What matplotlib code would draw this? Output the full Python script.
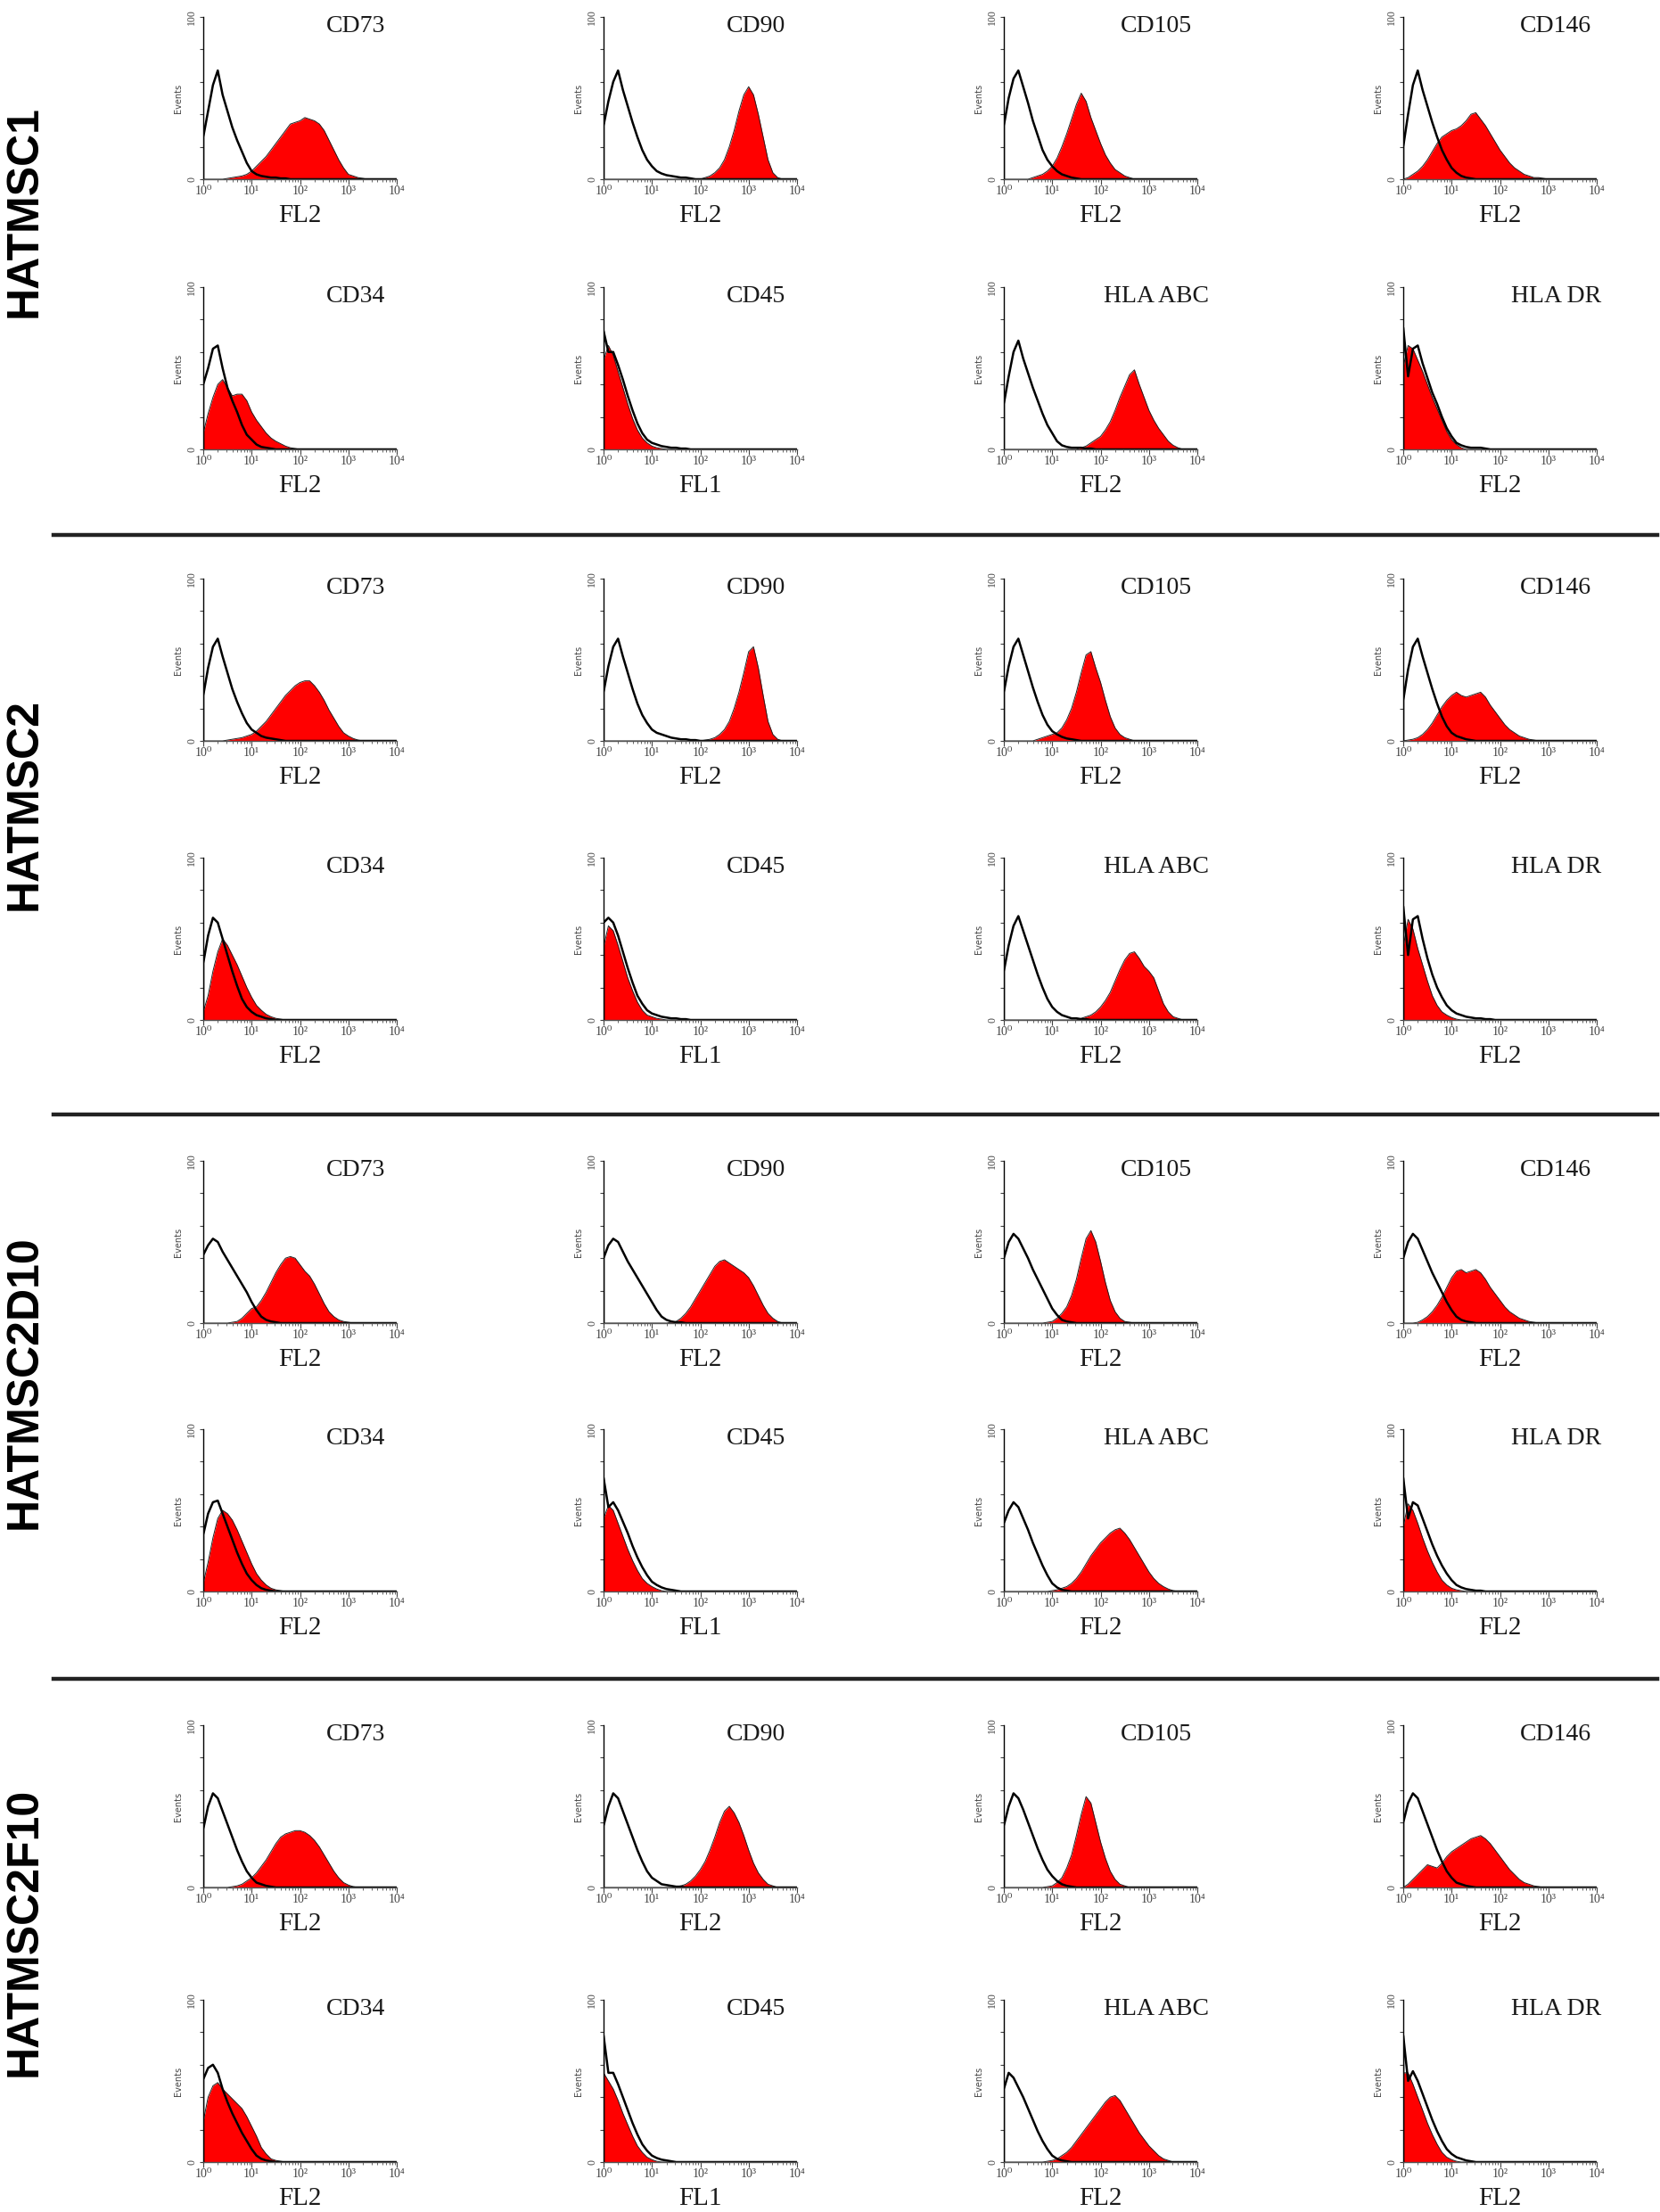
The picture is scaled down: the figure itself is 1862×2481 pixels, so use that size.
import numpy as np
import matplotlib
matplotlib.use("Agg")
import matplotlib.pyplot as plt
from matplotlib.ticker import LogLocator, NullFormatter, FixedLocator, FixedFormatter

# histogram heights (% of max events) read at log10(FL) = 0.0, 0.1, ..., 4.0
groups = ["HATMSC1", "HATMSC2", "HATMSC2D10", "HATMSC2F10"]
markers = ["CD73", "CD90", "CD105", "CD146", "CD34", "CD45", "HLA ABC", "HLA DR"]
channels = ["FL2", "FL2", "FL2", "FL2", "FL2", "FL1", "FL2", "FL2"]
decades = ["10⁰", "10¹", "10²", "10³", "10⁴"]

hatmsc1_ctrl = [
    [26, 42, 58, 67, 52, 42, 32, 24, 17, 10, 5, 3, 2, 1.5, 1, 1, 0.5, 0.5],
    [33, 48, 60, 67, 55, 45, 35, 26, 18, 12, 8, 5, 3.5, 2.5, 2, 1.5, 1, 1, 0.5],
    [33, 50, 62, 67, 57, 47, 36, 27, 18, 12, 8, 5, 3, 2, 1, 0.5],
    [20, 40, 58, 67, 55, 45, 35, 26, 18, 12, 7, 4, 2, 1, 0.5],
    [40, 50, 62, 64, 50, 38, 30, 23, 15, 9, 6, 3, 1.5, 1, 0.5],
    [73, 60, 60, 52, 43, 33, 24, 16, 10, 6, 4, 3, 2, 1.5, 1, 1, 0.5, 0.5],
    [28, 45, 60, 67, 56, 47, 38, 30, 22, 15, 10, 5, 2.5, 1.5, 1, 1, 1, 0.5, 0.5],
    [75, 45, 62, 64, 53, 44, 35, 28, 20, 13, 8, 4, 2.5, 1.5, 1, 1, 1, 0.5],
]
hatmsc1_pos = [
    [0] * 5 + [0.5, 1, 1.5, 2, 3, 5, 8, 11, 14, 18, 22, 26, 30, 34, 35, 36, 38, 37, 36, 34, 30,
               24, 18, 12, 7, 3, 2, 1, 0.5],
    [0] * 21 + [1, 2, 4, 7, 12, 20, 30, 42, 52, 57, 52, 40, 26, 12, 4, 1],
    [0] * 6 + [1, 2, 3, 5, 8, 13, 20, 28, 37, 46, 53, 48, 38, 30, 22, 15, 10, 6, 4, 2, 1],
    [0, 1, 3, 5, 8, 12, 17, 22, 26, 28, 30, 31, 33, 36, 40, 41, 37, 33, 28, 23, 18, 14, 10, 7, 5,
     3, 2, 1, 1, 0.5],
    [10, 22, 32, 40, 43, 38, 33, 34, 34, 30, 23, 18, 14, 10, 7, 5, 3.5, 2, 1, 0.5],
    [55, 64, 58, 48, 38, 28, 19, 12, 7, 4, 2, 1, 0.5],
    [0] * 16 + [1, 2, 4, 6, 8, 12, 17, 24, 32, 39, 46, 49, 40, 32, 24, 18, 13, 9, 5, 2.5, 1],
    [51, 64, 62, 55, 48, 40, 32, 25, 18, 11, 6, 3, 1],
]

hatmsc2_ctrl = [
    [28, 45, 58, 63, 52, 42, 32, 24, 17, 11, 7, 5, 3, 2, 1.5, 1, 0.5],
    [30, 46, 58, 63, 52, 42, 32, 23, 16, 11, 7, 5, 4, 3, 2, 1.5, 1, 1, 0.5, 0.5],
    [30, 46, 58, 63, 53, 43, 33, 24, 16, 10, 6, 4, 2.5, 1.5, 1, 0.5],
    [25, 44, 58, 63, 52, 42, 32, 23, 15, 9, 5, 3, 2, 1, 0.5],
    [35, 52, 63, 60, 50, 40, 30, 21, 13, 8, 5, 3, 2, 1, 0.5],
    [60, 63, 60, 52, 42, 32, 23, 15, 10, 6, 4, 3, 2, 1.5, 1, 1, 0.5, 0.5],
    [30, 46, 58, 64, 55, 46, 37, 28, 20, 13, 8, 5, 3, 2, 1, 1, 0.5, 0.5],
    [70, 40, 62, 64, 50, 38, 28, 20, 14, 9, 6, 4, 3, 2, 1.5, 1, 1, 0.5, 0.5],
]
hatmsc2_pos = [
    [0] * 5 + [0.5, 1, 1.5, 2, 3, 4, 6, 9, 12, 16, 20, 24, 28, 31, 34, 36, 37, 37, 34, 30, 25,
               19, 14, 9, 5, 3, 1.5, 0.5],
    [0] * 21 + [0.5, 1, 2, 4, 7, 12, 20, 30, 42, 55, 58, 45, 28, 12, 4, 1],
    [0] * 7 + [1, 2, 3, 4, 5, 8, 13, 20, 30, 42, 53, 55, 45, 36, 25, 15, 8, 4, 2, 1],
    [0, 0.5, 1, 2, 4, 7, 11, 16, 21, 25, 28, 30, 28, 27, 28, 29, 30, 27, 22, 18, 14, 10, 7, 5, 3,
     2, 1, 0.5],
    [5, 15, 30, 42, 50, 46, 40, 34, 27, 20, 14, 9, 6, 3.5, 2, 1, 0.5],
    [45, 58, 55, 46, 36, 26, 18, 11, 6, 3, 2, 1, 0.5],
    [0] * 16 + [1, 2, 3, 5, 8, 12, 17, 24, 31, 37, 41, 42, 38, 33, 30, 26, 18, 10, 5, 2, 1],
    [45, 62, 56, 44, 34, 24, 15, 9, 5, 3, 1.5, 0.5],
]

hatmsc2d10_ctrl = [
    [42, 48, 52, 50, 44, 39, 34, 29, 24, 19, 13, 8, 4, 2, 1, 0.5],
    [40, 48, 52, 50, 44, 38, 33, 28, 23, 18, 13, 8, 4, 2, 1, 0.5, 0.5],
    [40, 50, 55, 52, 46, 40, 33, 27, 21, 15, 9, 5, 2, 1, 0.5],
    [40, 50, 55, 52, 45, 38, 31, 25, 19, 13, 8, 4, 2, 1, 0.5],
    [35, 48, 55, 56, 48, 40, 32, 24, 17, 11, 7, 4, 2, 1, 0.5],
    [70, 52, 55, 50, 43, 36, 28, 21, 15, 10, 6, 4, 2.5, 1.5, 1, 0.5],
    [42, 50, 55, 52, 45, 38, 30, 23, 16, 10, 5, 2.5, 1, 0.5],
    [70, 45, 55, 53, 45, 37, 29, 22, 16, 11, 7, 4, 2.5, 1.5, 1, 0.5, 0.5],
]
hatmsc2d10_pos = [
    [0] * 6 + [0.5, 1, 3, 6, 9, 10, 14, 19, 25, 31, 36, 40, 41, 40, 36, 32, 29, 24, 18, 12, 7, 4,
               2, 1, 0.5],
    [0] * 14 + [0.5, 1, 3, 6, 10, 15, 20, 25, 30, 35, 38, 39, 37, 35, 33, 31, 28, 23, 17, 11, 6,
                3, 1],
    [0] * 9 + [0.5, 1, 3, 6, 10, 17, 27, 40, 52, 57, 50, 38, 25, 14, 7, 3, 1, 0.5],
    [0] * 3 + [0.5, 2, 4, 7, 11, 16, 22, 28, 32, 33, 31, 32, 33, 31, 27, 22, 18, 14, 10, 7, 5, 3,
               2, 1, 0.5],
    [5, 18, 33, 45, 50, 48, 44, 38, 31, 24, 17, 11, 7, 4, 2, 1, 0.5],
    [45, 53, 50, 42, 34, 26, 19, 13, 8, 5, 3, 1.5, 0.5],
    [0] * 10 + [0.5, 1, 2, 3, 5, 8, 12, 17, 22, 26, 30, 33, 36, 38, 39, 36, 32, 27, 22, 17, 12, 8,
                5, 3, 1.5, 0.5],
    [40, 54, 50, 42, 33, 25, 18, 12, 7, 4, 2, 1, 0.5],
]

hatmsc2f10_ctrl = [
    [36, 50, 58, 55, 47, 39, 31, 23, 16, 10, 6, 3, 2, 1, 0.5],
    [38, 50, 58, 55, 47, 39, 31, 23, 16, 10, 6, 4, 2, 1.5, 1, 0.5, 0.5],
    [38, 50, 58, 55, 48, 40, 32, 24, 17, 11, 7, 4, 2, 1, 0.5],
    [40, 52, 58, 55, 47, 39, 31, 23, 16, 10, 6, 3, 2, 1, 0.5],
    [51, 58, 60, 55, 45, 37, 30, 24, 18, 13, 8, 4, 2, 1, 0.5],
    [78, 55, 55, 48, 40, 32, 24, 17, 11, 7, 4, 2.5, 1.5, 1, 0.5],
    [45, 55, 52, 46, 40, 33, 26, 19, 13, 8, 4, 2, 1, 0.5],
    [78, 50, 56, 50, 42, 34, 26, 19, 13, 8, 5, 3, 2, 1, 0.5],
]
hatmsc2f10_pos = [
    [0] * 6 + [0.5, 1, 2, 4, 6, 9, 13, 17, 22, 27, 31, 33, 34, 35, 35, 34, 32, 29, 25, 20, 15, 10,
               6, 3, 1.5, 0.5],
    [0] * 15 + [0.5, 1, 2, 4, 7, 11, 16, 23, 31, 40, 47, 50, 46, 40, 32, 23, 15, 9, 5, 2, 1],
    [0] * 9 + [0.5, 1, 3, 6, 12, 20, 32, 45, 56, 52, 40, 28, 18, 10, 5, 2, 1],
    [0, 2, 5, 8, 11, 14, 13, 12, 15, 19, 22, 24, 26, 28, 30, 31, 32, 30, 27, 23, 19, 15, 11, 8, 5,
     3, 2, 1, 0.5],
    [25, 40, 47, 49, 45, 42, 39, 36, 33, 28, 22, 16, 9, 5, 2, 1, 0.5],
    [55, 50, 45, 38, 30, 23, 16, 10, 6, 3, 1.5, 0.5],
    [0] * 9 + [0.5, 1, 2, 4, 6, 9, 13, 17, 21, 25, 29, 33, 37, 40, 41, 38, 33, 28, 23, 18, 14, 10,
               7, 4, 2, 1],
    [55, 55, 48, 40, 32, 24, 17, 11, 6, 3, 1.5, 0.5],
]

ctrl_sets = [hatmsc1_ctrl, hatmsc2_ctrl, hatmsc2d10_ctrl, hatmsc2f10_ctrl]
pos_sets = [hatmsc1_pos, hatmsc2_pos, hatmsc2d10_pos, hatmsc2f10_pos]

W, H = 1862, 2481
col_left = [228, 677, 1126, 1574]
row_top = [19, 322, 649, 962, 1302, 1603, 1935, 2243]
ax_w, ax_h = 217, 182
group_y = [237, 902, 1550, 2167]
sep_y = [600, 1250, 1883]

serif = ["Liberation Serif", "DejaVu Serif"]

log_x = np.arange(41) / 10.0
fl = 10 ** log_x


def full(vals):
    v = np.zeros(41)
    v[:len(vals)] = vals
    return np.concatenate([[0], v])


xs = np.concatenate([[1.0], fl])

fig = plt.figure(figsize=(W / 100, H / 100), dpi=100)

for g in range(4):
    for k in range(8):
        r = g * 2 + k // 4
        c = k % 4
        ax = fig.add_axes([col_left[c] / W, 1 - (row_top[r] + ax_h) / H, ax_w / W, ax_h / H])
        pos = full(pos_sets[g][k])
        ctrl = full(ctrl_sets[g][k])
        ax.fill_between(xs, pos, color="#ff0000", lw=0)
        ax.plot(xs, pos, color="#202020", lw=0.7)
        ax.plot(xs, ctrl, color="black", lw=1.8)
        ax.set_xscale("log")
        ax.set_xlim(1, 1e4)
        ax.set_ylim(0, 100)
        for s in ["top", "right"]:
            ax.spines[s].set_visible(False)
        ax.spines["left"].set_linewidth(1.0)
        ax.spines["bottom"].set_linewidth(1.0)
        ax.spines["bottom"].set_color("#555555")
        ax.xaxis.set_major_locator(FixedLocator([1, 10, 100, 1000, 10000]))
        ax.xaxis.set_major_formatter(FixedFormatter(decades))
        ax.xaxis.set_minor_locator(LogLocator(base=10, subs=np.arange(2, 10) / 1.0, numticks=20))
        ax.xaxis.set_minor_formatter(NullFormatter())
        ax.tick_params(axis="x", which="major", length=4, width=0.8, pad=1, labelsize=10,
                       color="#444444")
        ax.tick_params(axis="x", which="minor", length=2.5, width=0.7, color="#666666")
        ax.set_yticks([0, 20, 40, 60, 80, 100])
        ax.set_yticklabels(["0", "", "", "", "", "100"], rotation=90, va="center")
        ax.tick_params(axis="y", length=3, width=0.8, pad=2, labelsize=8.5, color="#444444")
        for t in ax.get_xticklabels() + ax.get_yticklabels():
            t.set_family(serif)
            t.set_color("#444444")
        ax.text(-0.13, 0.5, "Events", rotation=90, transform=ax.transAxes, ha="center",
                va="center", fontsize=7, family="DejaVu Sans", color="#444444")
        ax.text(0.79, 0.94, markers[k], transform=ax.transAxes, ha="center", va="center",
                fontsize=20, family=serif, color="#1a1a1a")
        ax.text(0.5, -0.225, channels[k], transform=ax.transAxes, ha="center", va="center",
                fontsize=21, family=serif, color="#1a1a1a")

for g in range(4):
    fig.text(28 / W, 1 - group_y[g] / H, groups[g], rotation=90, ha="center", va="center",
             fontsize=36, fontweight="bold", family=["Liberation Sans", "DejaVu Sans"])

for y in sep_y:
    fig.add_artist(plt.Line2D([60 / W, 1859 / W], [1 - y / H, 1 - y / H], color="#222222",
                              lw=3.2))

fig.savefig("out.png", dpi=100, facecolor="white")
